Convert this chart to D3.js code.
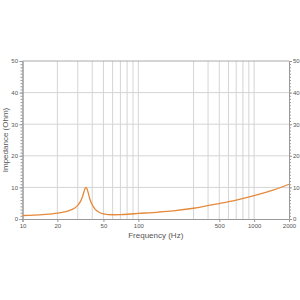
<!DOCTYPE html>
<html>
<head>
<meta charset="utf-8">
<script src="https://cdn.jsdelivr.net/npm/d3@7"></script>
<style>
body { margin: 0; background: #fff; }
svg text { font-family: "Liberation Sans", Arial, sans-serif; fill: #555; }
</style>
</head>
<body>
<div id="chart"></div>
<script>
let W = 300, H = 300;
let margin = {top: 61, right: 11, bottom: 81, left: 22.5};

// impedance curve
let freqs = [10, 15, 20, 25, 28, 30, 32, 33, 34, 35, 36, 37, 38, 40, 42, 45, 50, 60, 70, 80, 100, 150, 200, 300, 500, 700, 1000, 1500, 2000];
let imped = [1.1, 1.4, 1.85, 2.6, 3.4, 4.3, 5.9, 7.1, 8.7, 9.9, 9.6, 8.2, 6.5, 4.5, 3.3, 2.3, 1.65, 1.35, 1.4, 1.5, 1.75, 2.2, 2.6, 3.4, 4.9, 6.0, 7.4, 9.3, 11.0];

let xTickVals = [10, 20, 50, 100, 500, 1000, 2000];
let xGridVals = [20, 30, 40, 50, 60, 70, 80, 90, 100, 300, 400, 500, 600, 700, 800, 900, 1000];
let yTickVals = [0, 10, 20, 30, 40, 50];

let iw = W - margin.left - margin.right;
let ih = H - margin.top - margin.bottom;

let svg = d3.select("#chart").append("svg")
    .attr("width", W)
    .attr("height", H);
let g = svg.append("g")
    .attr("transform", `translate(${margin.left},${margin.top})`);

let x = d3.scaleLog().domain([10, 2000]).range([0, iw]);
let y = d3.scaleLinear().domain([0, 50]).range([ih, 0]);

// grid
g.selectAll(".vgrid")
    .data(xGridVals)
    .enter()
    .append("line")
    .attr("x1", d => x(d)).attr("x2", d => x(d))
    .attr("y1", 0).attr("y2", ih)
    .attr("stroke", "#d4d4d4")
    .attr("stroke-width", 1);
g.selectAll(".hgrid")
    .data(yTickVals.filter(d => d > 0))
    .enter()
    .append("line")
    .attr("x1", 0).attr("x2", iw)
    .attr("y1", d => y(d)).attr("y2", d => y(d))
    .attr("stroke", d => d == 50 ? "#aaa" : "#d4d4d4")
    .attr("stroke-width", 1);

// axes
let minor = d3.range(0, 51, 1);
let left = g.append("g")
    .call(d3.axisLeft(y).tickValues(minor).tickSize(2).tickFormat(""));
let leftMajor = g.append("g")
    .call(d3.axisLeft(y).tickValues(yTickVals).tickSize(3).tickPadding(1.5));
let right = g.append("g")
    .attr("transform", `translate(${iw},0)`)
    .call(d3.axisRight(y).tickValues(minor).tickSize(2).tickFormat(""));
let rightMajor = g.append("g")
    .attr("transform", `translate(${iw},0)`)
    .call(d3.axisRight(y).tickValues(yTickVals).tickSize(3).tickPadding(1));
let bottom = g.append("g")
    .attr("transform", `translate(0,${ih})`)
    .call(d3.axisBottom(x).tickValues(xTickVals).tickSize(3).tickPadding(2).tickFormat(d3.format("d")));

[left, leftMajor, right, rightMajor, bottom].forEach(a => {
    a.selectAll("path").attr("stroke", "#999");
    a.selectAll("line").attr("stroke", "#999");
    a.selectAll("text").attr("font-size", 6).attr("fill", "#555")
        .attr("font-family", "Liberation Sans, Arial, sans-serif");
});

// curve
let line = d3.line()
    .x((d, i) => x(freqs[i]))
    .y(d => y(d))
    .curve(d3.curveMonotoneX);
g.append("path")
    .datum(imped)
    .attr("d", line)
    .attr("fill", "none")
    .attr("stroke", "#e5893a")
    .attr("stroke-width", 1.3);

// titles
svg.append("text")
    .attr("x", margin.left + iw / 2)
    .attr("y", 238)
    .attr("text-anchor", "middle")
    .attr("font-size", 8)
    .text("Frequency (Hz)");
svg.append("text")
    .attr("transform", `translate(8,${margin.top + ih / 2}) rotate(-90)`)
    .attr("text-anchor", "middle")
    .attr("font-size", 8)
    .text("Impedance (Ohm)");
</script>
</body>
</html>
